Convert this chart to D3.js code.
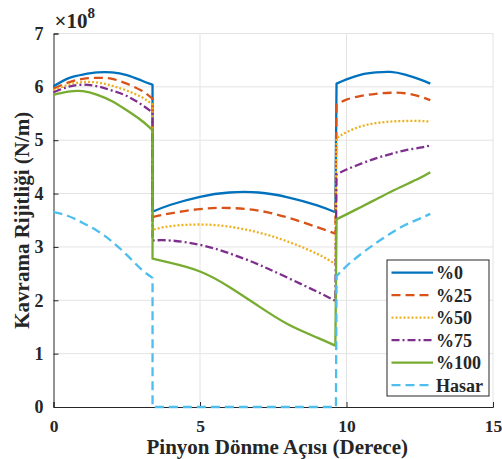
<!DOCTYPE html>
<html><head><meta charset="utf-8">
<script src="https://cdn.jsdelivr.net/npm/d3@7"></script>
<style>body{margin:0;background:#fff}svg{display:block}text{font-family:"Liberation Serif","Times New Roman",serif;font-weight:bold;fill:#262626}</style>
</head><body><svg id="c" width="502" height="459"></svg>
<script>
// ---- data ----
const angle1 = [0, 0.5, 1, 1.5, 2, 2.5, 3, 3.38];
const angle2 = [3.38, 4, 5, 6, 7, 8, 9, 9.62];
const angle3 = [9.66, 10, 10.5, 11, 11.5, 12, 12.5, 12.86];
const hasarAngle2 = [3.38, 9.64];

const k0   = [[6.01,6.16,6.23,6.27,6.27,6.22,6.12,6.04],[3.66,3.79,3.94,4.02,4.02,3.93,3.78,3.65],[6.06,6.14,6.23,6.27,6.28,6.23,6.14,6.06]];
const k25  = [[5.97,6.08,6.15,6.17,6.15,6.06,5.93,5.78],[3.56,3.63,3.71,3.73,3.68,3.55,3.37,3.25],[5.66,5.76,5.83,5.87,5.89,5.88,5.82,5.75]];
const k50  = [[5.93,6.04,6.09,6.08,6.02,5.93,5.81,5.67],[3.32,3.39,3.42,3.38,3.27,3.10,2.87,2.68],[5.04,5.15,5.26,5.32,5.35,5.36,5.36,5.35]];
const k75  = [[5.90,6.00,6.04,6.01,5.93,5.83,5.67,5.52],[3.12,3.12,3.04,2.88,2.67,2.42,2.16,1.99],[4.36,4.45,4.56,4.66,4.74,4.81,4.86,4.90]];
const k100 = [[5.85,5.91,5.92,5.85,5.73,5.56,5.37,5.19],[2.78,2.70,2.54,2.25,1.89,1.55,1.30,1.15],[3.52,3.61,3.75,3.89,4.03,4.16,4.29,4.40]];
const kHasar = [[3.65,3.58,3.45,3.30,3.10,2.85,2.58,2.42],[0,0],[2.45,2.64,2.87,3.07,3.25,3.41,3.53,3.62]];

const seriesNames = ["%0","%25","%50","%75","%100","Hasar"];
const xTicks = [0,5,10,15];
const yTicks = [0,1,2,3,4,5,6,7];

// ---- layout ----
const svg = d3.select("#c");
const L = 53.5, R = 493, T = 33.5, B = 407;
const x = d3.scaleLinear().domain([0,15]).range([L,R]);
const y = d3.scaleLinear().domain([0,7]).range([B,T]);

const colors = ["#0072BD","#D95319","#EDB120","#7E2F8E","#77AC30","#4DBEEE"];
const dashes = [null,"9,5","2,2","8,3,2,3",null,"9,5"];
const allData = [k0,k25,k50,k75,k100,kHasar];

// grid
svg.append("g").selectAll("line").data(xTicks.slice(1)).join("line")
  .attr("x1",d=>x(d)).attr("x2",d=>x(d)).attr("y1",B).attr("y2",T)
  .attr("stroke","#e3e3e3").attr("stroke-width",1);
svg.append("g").selectAll("line").data(yTicks.slice(1)).join("line")
  .attr("x1",L).attr("x2",R).attr("y1",d=>y(d)).attr("y2",d=>y(d))
  .attr("stroke","#e3e3e3").attr("stroke-width",1);

// axes
const xAxis = d3.axisBottom(x).tickValues(xTicks).tickFormat(d3.format("d")).tickSize(-5).tickPadding(13);
const yAxis = d3.axisLeft(y).tickValues(yTicks).tickFormat(d3.format("d")).tickSize(-5).tickPadding(10);
const gx = svg.append("g").attr("transform",`translate(0,${B})`).call(xAxis);
const gy = svg.append("g").attr("transform",`translate(${L},0)`).call(yAxis);
[gx,gy].forEach(g=>{
  g.attr("font-family",null).attr("font-size",null);
  g.select(".domain").attr("stroke","#262626").attr("stroke-width",1);
  g.selectAll(".tick line").attr("stroke","#262626");
  g.selectAll(".tick text").attr("font-size",18).attr("fill","#262626");
});
gx.selectAll(".tick text").attr("font-size",17.5).attr("dy","0.71em");

// lines
function segLine(xs, vs, curve){
  const pts = xs.map((a,i)=>[a,vs[i]]);
  return d3.line().x(d=>x(d[0])).y(d=>y(d[1])).curve(curve)(pts);
}
allData.forEach((segs,si)=>{
  const xsets = si===5 ? [angle1,hasarAngle2,angle3] : [angle1,angle2,angle3];
  let p = "";
  segs.forEach((vs,k)=>{
    const curve = vs.length>2 ? d3.curveNatural : d3.curveLinear;
    const s = segLine(xsets[k], vs, curve);
    p += (k===0 ? s : s.replace(/^M/,"L"));
  });
  svg.append("path").attr("d",p).attr("fill","none")
    .attr("stroke",colors[si]).attr("stroke-width",2.3)
    .attr("stroke-dasharray",dashes[si]).attr("stroke-linejoin","round");
});

// exponent label
const ex = svg.append("text").attr("x",L+1).attr("y",28).attr("font-size",21);
ex.append("tspan").text("×10");
ex.append("tspan").attr("font-size",15).attr("dy",-10).text("8");

// axis labels
svg.append("text").attr("x",(L+R)/2+4).attr("y",454).attr("text-anchor","middle")
  .attr("font-size",21).text("Pinyon Dönme Açısı (Derece)");
svg.append("text").attr("transform",`translate(29,${(T+B)/2}) rotate(-90)`)
  .attr("text-anchor","middle").attr("font-size",21).text("Kavrama Rijitliği (N/m)");

// legend
const lg = svg.append("g");
lg.append("rect").attr("x",387).attr("y",260).attr("width",102).attr("height",136)
  .attr("fill","#fff").attr("stroke","#262626").attr("stroke-width",1);
seriesNames.forEach((n,i)=>{
  const cy = 272.7 + i*22.5;
  lg.append("line").attr("x1",391.5).attr("x2",433).attr("y1",cy).attr("y2",cy)
    .attr("stroke",colors[i]).attr("stroke-width",2.3).attr("stroke-dasharray",dashes[i]);
  lg.append("text").attr("x",436).attr("y",cy).attr("dy","0.35em").attr("font-size",18).text(n);
});
</script></body></html>
